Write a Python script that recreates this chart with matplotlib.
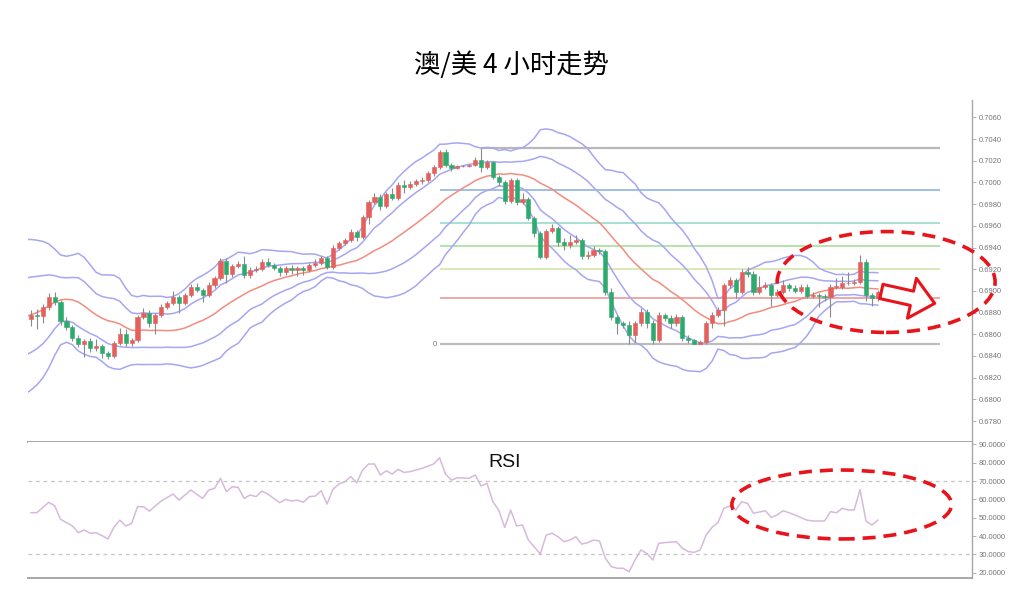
import matplotlib.pyplot as plt
import numpy as np
import pandas as pd
from matplotlib.patches import Ellipse

plt.rcParams['font.family'] = ['Liberation Sans', 'Noto Sans CJK SC', 'DejaVu Sans']

title = '澳/美 4 小时走势'

# closes of the 20 bars before the visible window (needed for the bands)
warmup = [0.6841, 0.6836, 0.6832, 0.6825, 0.6822, 0.6829, 0.6855, 0.6869, 0.6892, 0.6924,
          0.6933, 0.6927, 0.6905, 0.6887, 0.6875, 0.6896, 0.6917, 0.6905, 0.6884, 0.6869]

closes = [0.6878, 0.6877, 0.6885, 0.6894, 0.6890, 0.6872, 0.6867, 0.6857, 0.6851, 0.6854,
          0.6847, 0.6849, 0.6843, 0.6840, 0.6852, 0.6860, 0.6852, 0.6855, 0.6876, 0.6880,
          0.6870, 0.6878, 0.6885, 0.6889, 0.6894, 0.6889, 0.6896, 0.6904, 0.6901, 0.6896,
          0.6905, 0.6912, 0.6928, 0.6916, 0.6923, 0.6925, 0.6915, 0.6919, 0.6920, 0.6927,
          0.6924, 0.6921, 0.6917, 0.6921, 0.6919, 0.6921, 0.6919, 0.6924, 0.6926, 0.6930,
          0.6922, 0.6940, 0.6944, 0.6947, 0.6954, 0.6950, 0.6968, 0.6982, 0.6987, 0.6978,
          0.6989, 0.6986, 0.6998, 0.6996, 0.6999, 0.7001, 0.7002, 0.7009, 0.7014, 0.7028,
          0.7016, 0.7013, 0.7015, 0.7015, 0.7016, 0.7021, 0.7014, 0.7019, 0.7005, 0.7000,
          0.6983, 0.7002, 0.6982, 0.6985, 0.6967, 0.6953, 0.6931, 0.6955, 0.6958, 0.6945,
          0.6942, 0.6945, 0.6947, 0.6932, 0.6933, 0.6938, 0.6937, 0.6899, 0.6876, 0.6870,
          0.6869, 0.6859, 0.6870, 0.6881, 0.6870, 0.6855, 0.6878, 0.6875, 0.6870, 0.6876,
          0.6857, 0.6855, 0.6851, 0.6853, 0.6870, 0.6878, 0.6882, 0.6905, 0.6910, 0.6899,
          0.6917, 0.6916, 0.6899, 0.6904, 0.6905, 0.6896, 0.6899, 0.6905, 0.6903, 0.6900,
          0.6904, 0.6895, 0.6896, 0.6895, 0.6894, 0.6904, 0.6904, 0.6907, 0.6907, 0.6908,
          0.6927, 0.6896, 0.6893, 0.6899]

opens = [0.6874, 0.6878, 0.6877, 0.6885, 0.6894, 0.6890, 0.6872, 0.6867, 0.6857, 0.6851,
         0.6854, 0.6847, 0.6849, 0.6843, 0.6840, 0.6852, 0.6860, 0.6852, 0.6855, 0.6876,
         0.6880, 0.6870, 0.6878, 0.6885, 0.6889, 0.6894, 0.6889, 0.6896, 0.6904, 0.6901,
         0.6896, 0.6905, 0.6912, 0.6928, 0.6916, 0.6923, 0.6925, 0.6915, 0.6919, 0.6920,
         0.6927, 0.6924, 0.6921, 0.6917, 0.6921, 0.6919, 0.6921, 0.6919, 0.6924, 0.6926,
         0.6930, 0.6922, 0.6940, 0.6944, 0.6947, 0.6954, 0.6950, 0.6968, 0.6982, 0.6987,
         0.6978, 0.6989, 0.6986, 0.6998, 0.6996, 0.6999, 0.7001, 0.7002, 0.7009, 0.7014,
         0.7028, 0.7016, 0.7013, 0.7015, 0.7015, 0.7016, 0.7021, 0.7014, 0.7019, 0.7005,
         0.7000, 0.6983, 0.7002, 0.6982, 0.6985, 0.6967, 0.6953, 0.6931, 0.6955, 0.6958,
         0.6945, 0.6942, 0.6945, 0.6947, 0.6932, 0.6933, 0.6938, 0.6937, 0.6899, 0.6876,
         0.6870, 0.6869, 0.6859, 0.6870, 0.6881, 0.6870, 0.6855, 0.6878, 0.6875, 0.6870,
         0.6876, 0.6857, 0.6855, 0.6851, 0.6853, 0.6870, 0.6878, 0.6882, 0.6905, 0.6910,
         0.6899, 0.6917, 0.6916, 0.6899, 0.6904, 0.6905, 0.6896, 0.6899, 0.6905, 0.6903,
         0.6900, 0.6904, 0.6895, 0.6896, 0.6895, 0.6894, 0.6904, 0.6904, 0.6907, 0.6907,
         0.6908, 0.6927, 0.6896, 0.6893]

highs = [0.6882, 0.6883, 0.6888, 0.6898, 0.6899, 0.6892, 0.6876, 0.6869, 0.6859, 0.6856,
         0.6857, 0.6856, 0.6851, 0.6845, 0.6854, 0.6866, 0.6865, 0.6857, 0.6878, 0.6884,
         0.6882, 0.6880, 0.6888, 0.6891, 0.6900, 0.6896, 0.6898, 0.6906, 0.6907, 0.6903,
         0.6908, 0.6914, 0.6930, 0.6930, 0.6925, 0.6928, 0.6932, 0.6922, 0.6923, 0.6929,
         0.6930, 0.6926, 0.6923, 0.6923, 0.6924, 0.6923, 0.6923, 0.6926, 0.6929, 0.6932,
         0.6932, 0.6942, 0.6946, 0.6949, 0.6957, 0.6956, 0.6970, 0.6984, 0.6990, 0.6989,
         0.6991, 0.6995, 0.7000, 0.7002, 0.7001, 0.7003, 0.7005, 0.7011, 0.7016, 0.7030,
         0.7031, 0.7018, 0.7016, 0.7016, 0.7017, 0.7023, 0.7032, 0.7021, 0.7020, 0.7007,
         0.7002, 0.7004, 0.7004, 0.6990, 0.6987, 0.6969, 0.6955, 0.6957, 0.6962, 0.6960,
         0.6949, 0.6952, 0.6952, 0.6949, 0.6937, 0.6941, 0.6940, 0.6939, 0.6903, 0.6878,
         0.6872, 0.6872, 0.6872, 0.6884, 0.6883, 0.6873, 0.6881, 0.6880, 0.6878, 0.6879,
         0.6878, 0.6859, 0.6856, 0.6855, 0.6872, 0.6881, 0.6885, 0.6907, 0.6913, 0.6912,
         0.6920, 0.6922, 0.6918, 0.6914, 0.6908, 0.6907, 0.6902, 0.6910, 0.6907, 0.6905,
         0.6906, 0.6906, 0.6899, 0.6898, 0.6897, 0.6906, 0.6912, 0.6914, 0.6917, 0.6911,
         0.6933, 0.6929, 0.6898, 0.6901]

lows = [0.6868, 0.6865, 0.6870, 0.6882, 0.6887, 0.6869, 0.6864, 0.6854, 0.6848, 0.6839,
        0.6844, 0.6845, 0.6838, 0.6837, 0.6838, 0.6850, 0.6849, 0.6849, 0.6853, 0.6874,
        0.6867, 0.6860, 0.6876, 0.6883, 0.6887, 0.6880, 0.6887, 0.6894, 0.6899, 0.6890,
        0.6894, 0.6903, 0.6910, 0.6907, 0.6913, 0.6921, 0.6912, 0.6912, 0.6917, 0.6918,
        0.6922, 0.6919, 0.6914, 0.6915, 0.6916, 0.6914, 0.6915, 0.6917, 0.6922, 0.6924,
        0.6920, 0.6920, 0.6938, 0.6942, 0.6945, 0.6946, 0.6948, 0.6962, 0.6980, 0.6975,
        0.6976, 0.6984, 0.6984, 0.6990, 0.6994, 0.6997, 0.6999, 0.7000, 0.7006, 0.7012,
        0.7014, 0.7011, 0.7012, 0.7014, 0.7014, 0.7015, 0.7010, 0.7012, 0.7003, 0.6997,
        0.6980, 0.6981, 0.6979, 0.6980, 0.6965, 0.6950, 0.6929, 0.6929, 0.6953, 0.6941,
        0.6938, 0.6940, 0.6943, 0.6929, 0.6929, 0.6931, 0.6934, 0.6896, 0.6873, 0.6860,
        0.6866, 0.6851, 0.6853, 0.6868, 0.6866, 0.6851, 0.6853, 0.6872, 0.6866, 0.6868,
        0.6854, 0.6852, 0.6851, 0.6851, 0.6851, 0.6866, 0.6876, 0.6868, 0.6903, 0.6893,
        0.6897, 0.6913, 0.6896, 0.6897, 0.6902, 0.6886, 0.6894, 0.6897, 0.6900, 0.6898,
        0.6898, 0.6893, 0.6893, 0.6885, 0.6891, 0.6876, 0.6902, 0.6902, 0.6905, 0.6905,
        0.6906, 0.6891, 0.6886, 0.6891]

# RSI: bar index -> value
rsi_idx = [0, 1, 3, 4, 5, 7, 8, 9, 10, 11, 12, 13, 14, 15, 16, 17, 18, 19, 20, 21,
           22, 24, 25, 27, 29, 30, 31, 32, 33, 34, 35, 36, 37, 38, 39, 40, 42, 43, 44, 45,
           46, 47, 48, 49, 50, 51, 52, 53, 54, 55, 56, 57, 58, 59, 60, 61, 62, 63, 64, 65,
           66, 68, 69, 70, 71, 72, 74, 75, 76, 77, 78, 79, 80, 81, 82, 83, 84, 86, 87, 88,
           89, 90, 91, 92, 93, 94, 95, 96, 97, 98, 99, 100, 101, 102, 103, 104, 105, 106, 107, 109,
           110, 111, 112, 113, 114, 115, 116, 117, 118, 119, 120, 121, 122, 124, 125, 126, 127, 128, 129, 131,
           132, 134, 135, 136, 137, 138, 139, 140, 141, 142, 143]
rsi_val = [52.7, 52.7, 58.4, 56.5, 49.1, 45.5, 41.8, 43.3, 41.5, 41.8, 40.2, 38.4, 44.7, 48.7, 45.5, 46.9, 56.0, 56.0, 53.6, 56.4,
           59.1, 62.9, 59.6, 65.1, 60.5, 65.1, 66.0, 71.5, 64.2, 66.9, 66.5, 60.5, 62.4, 61.5, 64.5, 62.9, 58.2, 60.0, 59.1, 59.6,
           58.4, 61.5, 61.8, 64.7, 57.5, 65.5, 68.4, 69.6, 72.4, 69.1, 76.0, 79.3, 79.3, 73.3, 75.6, 73.8, 76.4, 74.7, 75.1, 76.0,
           76.9, 79.3, 82.7, 73.8, 70.5, 71.8, 71.5, 73.3, 67.3, 68.7, 58.7, 54.0, 44.7, 54.2, 45.5, 46.0, 37.8, 30.2, 40.5, 41.5,
           39.6, 36.9, 37.8, 39.6, 35.6, 36.4, 37.8, 37.3, 27.8, 23.3, 22.4, 22.4, 20.5, 26.9, 32.4, 30.5, 26.9, 36.0, 36.4, 36.9,
           33.3, 31.5, 31.1, 32.4, 40.5, 44.7, 47.3, 55.1, 56.4, 54.2, 58.7, 57.8, 52.4, 53.8, 50.2, 51.5, 53.8, 52.7, 51.5, 48.7,
           48.2, 48.2, 53.3, 52.7, 55.1, 54.2, 54.2, 65.3, 48.2, 46.0, 48.7]

fib_ratios = [0.0, 0.236, 0.382, 0.5, 0.618, 0.786, 1.0]
fib_colors = ['#bdbdbd', '#ea8f8f', '#cfe3a4', '#9fdc95', '#8ed8c6', '#86aee0', '#b8b8b8']
fib_start = [69, 69, 69, 69, 69, 69, 76]
fib_end = 153.5

up_col = '#e4605c'
dn_col = '#2daa6e'
band_col = '#a6a6f2'
mid_col = '#f28c7e'
ann_red = '#e8141c'
grid_grey = '#a8a8a8'

# ---- indicators
all_close = pd.Series(warmup + closes, index=np.arange(-len(warmup), len(closes)))
mid = all_close.rolling(20).mean()
sd = all_close.rolling(20).std(ddof=0)
vis = mid.index >= -1

fig = plt.figure(figsize=(10.24, 5.92), dpi=100)
ax = fig.add_axes([28 / 1024, 1 - 442 / 592, 944 / 1024, 342 / 592])
rax = fig.add_axes([28 / 1024, 1 - 578 / 592, 944 / 1024, 136 / 592], sharex=ax)

fig.text(0.5, 1 - 65 / 592, title, ha='center', va='center', fontsize=19,
         family=['Noto Sans CJK SC', 'DejaVu Sans'])

# bands
x_b = mid.index[vis]
for k in (2, 1, -1, -2):
    ax.plot(x_b, (mid + k * sd)[vis], color=band_col, lw=1.1, zorder=2)
ax.plot(x_b, mid[vis], color=mid_col, lw=1.1, zorder=2)

# fibonacci retracement
fib_low = min(lows[100:])
fib_high = max(highs[60:])
for r, c, s in zip(fib_ratios, fib_colors, fib_start):
    lvl = fib_low + r * (fib_high - fib_low)
    ax.hlines(lvl, s, fib_end, color=c, lw=1.6 if r in (0.0, 1.0) else 1.1, zorder=1)
ax.text(fib_start[0] - 0.4, fib_low, '0', ha='right', va='center', fontsize=5.5, color='#777777')

# candles
o = np.array(opens)
c = np.array(closes)
h = np.array(highs)
l = np.array(lows)
x = np.arange(len(c))
cols = np.where(c >= o, up_col, dn_col)
ax.vlines(x, l, h, color='#8a8a8a', lw=0.8, zorder=3)
body = np.maximum(np.abs(c - o), 0.00005)
ax.bar(x, body, bottom=np.minimum(o, c), width=0.7, color=cols, edgecolor=cols, lw=0.4, zorder=4)

ax.set_xlim(-0.5, 158.9)
ax.set_ylim(0.67607, 0.70760)
ax.set_yticks(np.arange(0.6780, 0.7061, 0.002))
ax.yaxis.set_major_formatter(plt.FuncFormatter(lambda v, p: f'{v:.4f}'))

# annotations on price panel
ax.add_patch(Ellipse((144.4, 0.69082), 36.8, 0.0093, fill=False, ec=ann_red, lw=2.6,
                     ls=(0, (3.6, 2.2)), clip_on=False, zorder=6))
ax.annotate('', xy=(152.6, 0.68885), xytext=(143.6, 0.68995),
            arrowprops=dict(arrowstyle='simple,head_length=0.8,head_width=1.4,tail_width=0.5',
                            mutation_scale=21, fc='white', ec=ann_red, lw=2.2,
                            shrinkA=0, shrinkB=0), zorder=7)

# RSI panel
rax.plot(rsi_idx, rsi_val, color='#d7b9dc', lw=1.1)
for lvl in (70, 30):
    rax.axhline(lvl, color='#c4c4c4', lw=0.9, ls=(0, (3, 3)))
rax.set_ylim(17.1, 91.3)
rax.set_yticks(np.arange(20, 91, 10))
rax.yaxis.set_major_formatter(plt.FuncFormatter(lambda v, p: f'{v:.4f}'))
rax.text(80, 80, 'RSI', ha='center', va='center', fontsize=14, color='#111111')
rax.add_patch(Ellipse((136.9, 57.2), 37.1, 37.6, fill=False, ec=ann_red, lw=2.6,
                      ls=(0, (3.6, 2.2)), clip_on=False, zorder=6))

for a in (ax, rax):
    a.yaxis.tick_right()
    a.tick_params(axis='y', length=3, width=0.6, color=grid_grey, labelsize=5.5,
                  labelcolor='#777777', pad=2)
    a.tick_params(axis='x', bottom=False, labelbottom=False)
    for side in ('left', 'top'):
        a.spines[side].set_visible(False)
    a.spines['right'].set_color(grid_grey)
    a.spines['right'].set_linewidth(1.0)
    a.spines['bottom'].set_color(grid_grey)
    a.spines['bottom'].set_linewidth(1.4)

fig.savefig('out.png', dpi=100)
